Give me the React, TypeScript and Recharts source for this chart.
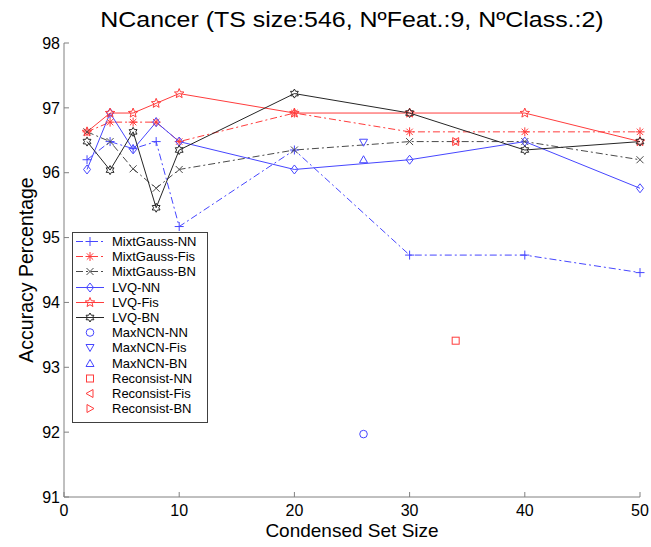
import { ComposedChart, Line, Scatter, XAxis, YAxis, Legend } from "recharts";

const FONT = "'Liberation Sans', Arial, sans-serif";
const BLUE = "#4646ff";
const RED = "#ff3c3c";
const GRAY = "#4a4a4a";
const BLACK = "#262626";
const AXIS = "#808080";
const DASHDOT = "7 3 2 3";

// condensed set sizes
const sizes = [2, 4, 6, 8, 10, 20, 30, 40, 50];
const xTicks = [0, 10, 20, 30, 40, 50];
const yTicks = [91, 92, 93, 94, 95, 96, 97, 98];

const mixtGaussNN = [96.2, 96.48, 96.37, 96.48, 95.17, 96.35, 94.73, 94.73, 94.46];
const mixtGaussFis = [96.63, 96.78, 96.78, 96.78, 96.48, 96.92, 96.63, 96.63, 96.63];
const mixtGaussBN = [96.63, 96.48, 96.06, 95.76, 96.05, 96.35, 96.48, 96.48, 96.2];
const lvqNN = [96.05, 96.92, 96.36, 96.78, 96.48, 96.05, 96.2, 96.48, 95.76];
const lvqFis = [96.63, 96.92, 96.92, 97.07, 97.22, 96.92, 96.92, 96.92, 96.48];
const lvqBN = [96.48, 96.04, 96.63, 95.46, 96.35, 97.22, 96.92, 96.35, 96.48];

// single-point methods: [size, accuracy]
const maxNCNNN = [26, 91.97];
const maxNCNFis = [26, 96.47];
const maxNCNBN = [26, 96.2];
const reconsistNN = [34, 93.41];
const reconsistFis = [34, 96.48];
const reconsistBN = [34, 96.48];

type Shape =
  | "plus" | "asterisk" | "x" | "diamond" | "pentagram" | "hexagram"
  | "circle" | "tdown" | "tup" | "square" | "tleft" | "tright";

function starPoints(cx: number, cy: number, n: number, ro: number, ri: number) {
  const pts: string[] = [];
  for (let i = 0; i < n * 2; i++) {
    const r = i % 2 === 0 ? ro : ri;
    const a = -Math.PI / 2 + (i * Math.PI) / n;
    pts.push(`${cx + r * Math.cos(a)},${cy + r * Math.sin(a)}`);
  }
  return pts.join(" ");
}

function Marker({ shape, cx, cy, color }: { shape: Shape; cx: number; cy: number; color: string }) {
  const p = { stroke: color, strokeWidth: 1, fill: "none" };
  switch (shape) {
    case "plus":
      return (
        <g {...p}>
          <line x1={cx - 4.5} y1={cy} x2={cx + 4.5} y2={cy} />
          <line x1={cx} y1={cy - 4.5} x2={cx} y2={cy + 4.5} />
        </g>
      );
    case "x":
      return (
        <g {...p}>
          <line x1={cx - 3.5} y1={cy - 3.5} x2={cx + 3.5} y2={cy + 3.5} />
          <line x1={cx - 3.5} y1={cy + 3.5} x2={cx + 3.5} y2={cy - 3.5} />
        </g>
      );
    case "asterisk":
      return (
        <g {...p}>
          <line x1={cx - 4.5} y1={cy} x2={cx + 4.5} y2={cy} />
          <line x1={cx} y1={cy - 4.5} x2={cx} y2={cy + 4.5} />
          <line x1={cx - 3.2} y1={cy - 3.2} x2={cx + 3.2} y2={cy + 3.2} />
          <line x1={cx - 3.2} y1={cy + 3.2} x2={cx + 3.2} y2={cy - 3.2} />
        </g>
      );
    case "diamond":
      return <polygon {...p} points={`${cx},${cy - 4.5} ${cx + 3.5},${cy} ${cx},${cy + 4.5} ${cx - 3.5},${cy}`} />;
    case "pentagram":
      return <polygon {...p} points={starPoints(cx, cy, 5, 5, 2.2)} />;
    case "hexagram":
      return <polygon {...p} points={starPoints(cx, cy, 6, 4.5, 2.6)} />;
    case "circle":
      return <circle {...p} cx={cx} cy={cy} r={3.8} />;
    case "square":
      return <rect {...p} x={cx - 3.5} y={cy - 3.5} width={7} height={7} />;
    case "tdown":
      return <polygon {...p} points={`${cx - 4},${cy - 3} ${cx + 4},${cy - 3} ${cx},${cy + 4}`} />;
    case "tup":
      return <polygon {...p} points={`${cx - 4},${cy + 3} ${cx + 4},${cy + 3} ${cx},${cy - 4}`} />;
    case "tleft":
      return <polygon {...p} points={`${cx + 3},${cy - 4} ${cx + 3},${cy + 4} ${cx - 4},${cy}`} />;
    case "tright":
      return <polygon {...p} points={`${cx - 3},${cy - 4} ${cx - 3},${cy + 4} ${cx + 4},${cy}`} />;
  }
  return null;
}

interface SeriesDef {
  name: string;
  color: string;
  dash?: string;
  shape: Shape;
  values?: number[];
  point?: number[];
}

const series: SeriesDef[] = [
  { name: "MixtGauss-NN", color: BLUE, dash: DASHDOT, shape: "plus", values: mixtGaussNN },
  { name: "MixtGauss-Fis", color: RED, dash: DASHDOT, shape: "asterisk", values: mixtGaussFis },
  { name: "MixtGauss-BN", color: GRAY, dash: DASHDOT, shape: "x", values: mixtGaussBN },
  { name: "LVQ-NN", color: BLUE, shape: "diamond", values: lvqNN },
  { name: "LVQ-Fis", color: RED, shape: "pentagram", values: lvqFis },
  { name: "LVQ-BN", color: BLACK, shape: "hexagram", values: lvqBN },
  { name: "MaxNCN-NN", color: BLUE, shape: "circle", point: maxNCNNN },
  { name: "MaxNCN-Fis", color: BLUE, shape: "tdown", point: maxNCNFis },
  { name: "MaxNCN-BN", color: BLUE, shape: "tup", point: maxNCNBN },
  { name: "Reconsist-NN", color: RED, shape: "square", point: reconsistNN },
  { name: "Reconsist-Fis", color: RED, shape: "tleft", point: reconsistFis },
  { name: "Reconsist-BN", color: RED, shape: "tright", point: reconsistBN },
];

// plot box edges, used only for tick marks and axis labels
const PLOT_BOTTOM = 497;
const PLOT_LEFT = 64;

function XTick(props: any) {
  const { x, payload } = props;
  return (
    <g>
      <line x1={x} y1={PLOT_BOTTOM} x2={x} y2={PLOT_BOTTOM - 5} stroke={AXIS} />
      <text x={x} y={PLOT_BOTTOM + 19} textAnchor="middle" fontSize={16} fontFamily={FONT} fill="#000">
        {payload.value}
      </text>
    </g>
  );
}

function YTick(props: any) {
  const { y, payload } = props;
  return (
    <g>
      <line x1={PLOT_LEFT} y1={y} x2={PLOT_LEFT + 5} y2={y} stroke={AXIS} />
      <text x={PLOT_LEFT - 4} y={y} dy="0.36em" textAnchor="end" fontSize={16} fontFamily={FONT} fill="#000">
        {payload.value}
      </text>
    </g>
  );
}

const NoTick = () => <g />;

function LegendBox() {
  return (
    <div
      style={{
        border: "1px solid #404040",
        background: "#fff",
        boxSizing: "border-box",
        width: 136,
        height: 191,
        paddingTop: 1,
        fontFamily: FONT,
        fontSize: 13,
        color: "#000",
      }}
    >
      {series.map((s) => (
        <div key={s.name} style={{ display: "flex", alignItems: "center", height: 15.2 }}>
          <svg width={39} height={15} style={{ flex: "none" }}>
            {s.values && (
              <line x1={3} y1={7.5} x2={31} y2={7.5} stroke={s.color} strokeDasharray={s.dash} />
            )}
            <Marker shape={s.shape} cx={17} cy={7.5} color={s.color} />
          </svg>
          <span style={{ whiteSpace: "nowrap", lineHeight: "15px" }}>{s.name}</span>
        </div>
      ))}
    </div>
  );
}

export default function App() {
  return (
    <div style={{ position: "absolute", left: 0, top: 0, width: 651, height: 547, background: "#fff" }}>
      <div
        style={{
          position: "absolute",
          left: 64,
          width: 576,
          top: 10,
          textAlign: "center",
          fontFamily: FONT,
          fontSize: 21.5,
          lineHeight: "21px",
          color: "#000",
          whiteSpace: "nowrap",
          transform: "scaleX(1.16)",
        }}
      >
        NCancer (TS size:546, NºFeat.:9, NºClass.:2)
      </div>
      <ComposedChart width={651} height={547} margin={{ top: 43, right: 11, bottom: 0, left: 0 }}>
        <XAxis
          xAxisId="b"
          dataKey="x"
          type="number"
          domain={[0, 50]}
          ticks={xTicks}
          height={50}
          stroke={AXIS}
          tickLine={false}
          tickSize={0}
          tickMargin={0}
          tick={<XTick />}
          label={{
            content: (p: any) => (
              <text
                x={p.viewBox.x + p.viewBox.width / 2}
                y={PLOT_BOTTOM + 40}
                textAnchor="middle"
                fontSize={19}
                fontFamily={FONT}
                fill="#000"
              >
                Condensed Set Size
              </text>
            ),
          }}
        />
        <XAxis
          xAxisId="t"
          orientation="top"
          type="number"
          domain={[0, 50]}
          ticks={xTicks}
          height={0}
          mirror
          stroke={AXIS}
          tickSize={5}
          tick={<NoTick />}
        />
        <YAxis
          yAxisId="l"
          dataKey="y"
          type="number"
          domain={[91, 98]}
          ticks={yTicks}
          width={64}
          stroke={AXIS}
          tickLine={false}
          tickSize={0}
          tickMargin={0}
          tick={<YTick />}
          label={{
            content: () => (
              <text
                transform="translate(33, 270) rotate(-90)"
                textAnchor="middle"
                fontSize={19.5}
                fontFamily={FONT}
                fill="#000"
              >
                Accuracy Percentage
              </text>
            ),
          }}
        />
        <YAxis
          yAxisId="r"
          orientation="right"
          type="number"
          domain={[91, 98]}
          ticks={yTicks}
          width={0}
          mirror
          stroke={AXIS}
          tickSize={5}
          tick={<NoTick />}
        />
        {series.map((s) =>
          s.values ? (
            <Line
              key={s.name}
              xAxisId="b"
              yAxisId="l"
              name={s.name}
              data={sizes.map((x, i) => ({ x, y: s.values![i] }))}
              dataKey="y"
              type="linear"
              stroke={s.color}
              strokeWidth={1}
              strokeDasharray={s.dash}
              isAnimationActive={false}
              activeDot={false}
              dot={(p: any) => (
                <Marker key={`${s.name}-${p.index}`} shape={s.shape} cx={p.cx} cy={p.cy} color={s.color} />
              )}
            />
          ) : (
            <Scatter
              key={s.name}
              xAxisId="b"
              yAxisId="l"
              name={s.name}
              data={[{ x: s.point![0], y: s.point![1] }]}
              dataKey="y"
              isAnimationActive={false}
              shape={(p: any) => <Marker shape={s.shape} cx={p.cx} cy={p.cy} color={s.color} />}
            />
          )
        )}
        <Legend
          layout="vertical"
          align="center"
          verticalAlign="middle"
          wrapperStyle={{ left: 72, top: 232, width: 136, height: 191 }}
          content={() => <LegendBox />}
        />
      </ComposedChart>
    </div>
  );
}
